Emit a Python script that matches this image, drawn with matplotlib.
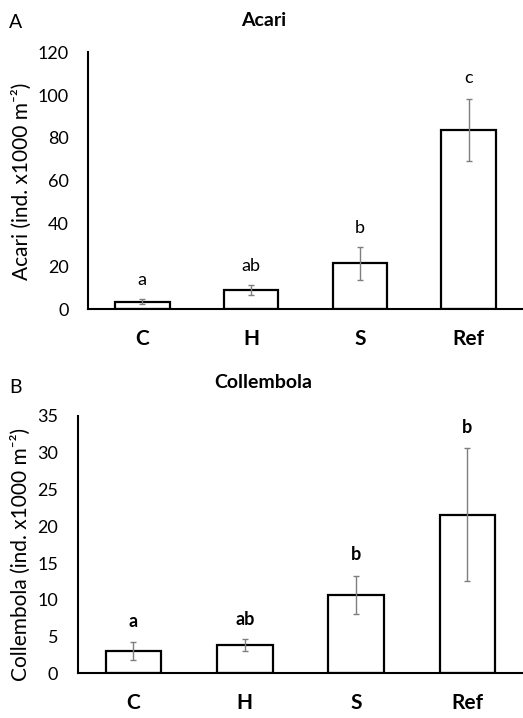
import matplotlib
matplotlib.use("Agg")
import matplotlib.pyplot as plt
import numpy as np

plt.rcParams['font.family'] = ['Lato', 'DejaVu Sans']

categories = ["C", "H", "S", "Ref"]

acari_mean = [3.6, 9.0, 21.5, 83.7]
acari_err = [1.0, 2.5, 7.7, 14.5]
acari_letters = ["a", "ab", "b", "c"]
acari_letter_y = [13.7, 20.4, 37.8, 107.8]

coll_mean = [3.07, 3.85, 10.65, 21.6]
coll_err = [1.25, 0.8, 2.55, 9.1]
coll_letters = ["a", "ab", "b", "b"]
coll_letter_y = [7.0, 7.35, 16.1, 33.5]

W, H = 523, 718
fig = plt.figure(figsize=(W / 100, H / 100), dpi=100)

def fx(px):
    return px / W

def fy(py):
    return 1 - py / H

def panel(rect, means, errs, letters, letter_y, ymax, ystep, ylabel, letter_bold,
          ylabel_xy):
    ax = fig.add_axes(rect)
    x = np.arange(len(categories))
    ax.bar(x, means, width=0.5, color='white', edgecolor='black', linewidth=1.6, zorder=2)
    ax.errorbar(x, means, yerr=errs, fmt='none', ecolor='#7f7f7f', elinewidth=1.0,
                capsize=2.3, capthick=1.0, zorder=3)
    for xi, lt, ly in zip(x, letters, letter_y):
        ax.text(xi, ly, lt, ha='center', va='center', fontsize=13,
                fontweight='bold' if letter_bold else 'normal')
    ax.set_xlim(-0.5, 3.5)
    ax.set_ylim(0, ymax)
    ax.set_yticks(np.arange(0, ymax + 0.1, ystep))
    ax.set_xticks(x)
    ax.set_xticklabels(categories, fontsize=15, fontweight='bold')
    ax.tick_params(axis='y', length=0, pad=14, labelsize=13)
    ax.tick_params(axis='x', length=0, pad=14)
    for s in ['top', 'right']:
        ax.spines[s].set_visible(False)
    ax.spines['left'].set_linewidth(1.5)
    ax.spines['bottom'].set_linewidth(1.5)
    fig.text(fx(ylabel_xy[0]), fy(ylabel_xy[1]), ylabel, rotation=90, ha='center',
             va='center', fontsize=15)
    return ax

panel([fx(88), fy(309.3), 1 - fx(88), (309.3 - 52.3) / H], acari_mean, acari_err,
      acari_letters, acari_letter_y, 120, 20,
      "Acari (ind. x1000 m\u207B\u00B2)", False, (22, 181))
panel([fx(77.7), fy(673.3), 1 - fx(77.7), (673.3 - 416) / H], coll_mean, coll_err,
      coll_letters, coll_letter_y, 35, 5,
      "Collembola (ind. x1000 m\u207B\u00B2)", True, (21, 554))

fig.text(fx(263.5), fy(20), "Acari", ha='center', va='center', fontsize=14, fontweight='bold')
fig.text(fx(263), fy(382.5), "Collembola", ha='center', va='center', fontsize=14, fontweight='bold')
fig.text(fx(9), fy(23), "A", ha='left', va='center', fontsize=14)
fig.text(fx(9), fy(388), "B", ha='left', va='center', fontsize=14)

fig.savefig("out.png", dpi=100)
